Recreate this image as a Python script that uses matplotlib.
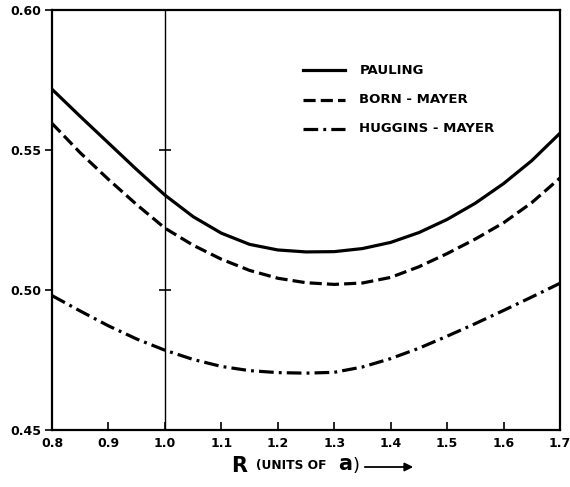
import matplotlib
matplotlib.use("Agg")
import matplotlib.pyplot as plt

R = [0.80, 0.85, 0.90, 0.95, 1.00, 1.05, 1.10, 1.15, 1.20, 1.25,
     1.30, 1.35, 1.40, 1.45, 1.50, 1.55, 1.60, 1.65, 1.70]
pauling = [0.5717, 0.5620, 0.5525, 0.5430, 0.5339, 0.5262, 0.5203, 0.5163, 0.5143, 0.5136,
           0.5137, 0.5148, 0.5170, 0.5205, 0.5252, 0.5310, 0.5380, 0.5462, 0.5560]
born_mayer = [0.5595, 0.5490, 0.5395, 0.5305, 0.5221, 0.5160, 0.5110, 0.5070, 0.5042, 0.5026,
              0.5020, 0.5025, 0.5045, 0.5083, 0.5130, 0.5182, 0.5240, 0.5312, 0.5400]
huggins_mayer = [0.4980, 0.4925, 0.4872, 0.4825, 0.4785, 0.4752, 0.4727, 0.4712, 0.4705, 0.4703,
                 0.4706, 0.4725, 0.4755, 0.4792, 0.4835, 0.4880, 0.4927, 0.4975, 0.5024]

xticks = [0.8, 0.9, 1.0, 1.1, 1.2, 1.3, 1.4, 1.5, 1.6, 1.7]
xticklabels = ["0.8", "0.9", "1.0", "1.1", "1.2", "1.3", "1.4", "1.5", "1.6", "1.7"]
yticks = [0.45, 0.50, 0.55, 0.60]
yticklabels = ["0.45", "0.50", "0.55", "0.60"]
series_names = ["PAULING", "BORN - MAYER", "HUGGINS - MAYER"]

fig = plt.figure(figsize=(5.7, 4.87), dpi=100)
ax = fig.add_axes([52/570, 1-430/487, (560-52)/570, (430-10)/487])

lw = 2.3
styles = [dict(linestyle="-"),
          dict(dashes=(3.8, 1.6)),
          dict(dashes=(4.6, 1.6, 0.9, 1.6))]
data = [pauling, born_mayer, huggins_mayer]
for vals, st in zip(data, styles):
    ax.plot(R, vals, color="black", lw=lw, **st)

ax.set_xlim(0.8, 1.7)
ax.set_ylim(0.45, 0.60)

# vertical reference line at R = 1.0 with small cross ticks
ax.axvline(1.0, color="black", lw=1.0)
ax.plot([1.0, 1.0], [0.50, 0.55], linestyle="none", marker="_",
        markersize=8, markeredgewidth=1.2, color="black")

for s in ax.spines.values():
    s.set_linewidth(1.6)

ax.set_xticks(xticks)
ax.set_xticklabels(xticklabels)
ax.set_yticks(yticks)
ax.set_yticklabels(yticklabels)
ax.tick_params(axis="x", direction="in", length=6, width=1.2, pad=5)
ax.tick_params(axis="y", direction="out", length=5, width=1.2, pad=3)
for lab in ax.get_xticklabels() + ax.get_yticklabels():
    lab.set_fontweight("bold")
    lab.set_fontsize(9)
    lab.set_family("DejaVu Sans")

# legend drawn manually
ly = [0.857, 0.786, 0.717]
for name, st, yy in zip(series_names, styles, ly):
    ax.plot([0.494, 0.576], [yy, yy], transform=ax.transAxes, color="black", lw=lw, **st)
    ax.text(0.605, yy, name, transform=ax.transAxes, fontsize=9.5,
            fontweight="bold", va="center", ha="left", family="DejaVu Sans")

# x label
fig.text(231/570, 1-466/487, "R", fontsize=15, fontweight="bold", va="center", ha="left")
fig.text(256/570, 1-466/487, "(UNITS OF", fontsize=8.8, fontweight="bold", va="center", ha="left")
fig.text(338/570, 1-464/487, "a", fontsize=15, fontweight="bold", va="center", ha="left")
fig.text(353/570, 1-466/487, ")", fontsize=13, va="center", ha="left")
fig.add_artist(matplotlib.patches.FancyArrowPatch(
    (362/570, 1-467/487), (416/570, 1-467/487), transform=fig.transFigure,
    arrowstyle="-|>,head_length=5,head_width=2.5", color="black", lw=1.3))

fig.savefig("out.png", dpi=100)
